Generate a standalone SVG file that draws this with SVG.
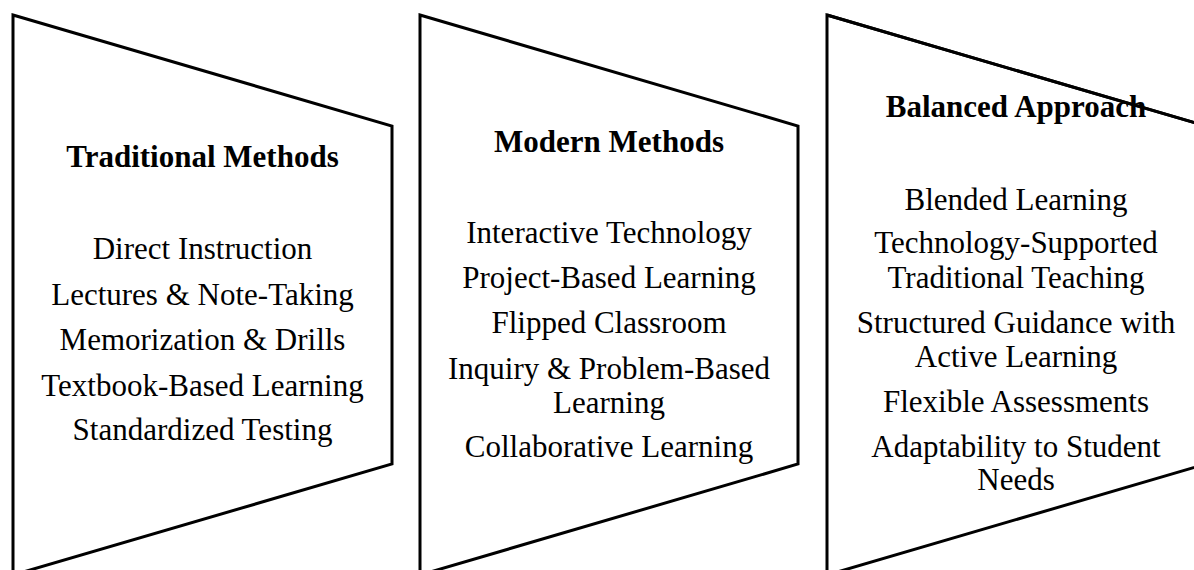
<svg xmlns="http://www.w3.org/2000/svg" width="1194" height="570" viewBox="0 0 1194 570">
  <defs>
    <style>
      .panel { fill: #ffffff; stroke: #000000; stroke-width: 3; stroke-linejoin: miter; }
    </style>
  </defs>
  <rect x="0" y="0" width="1194" height="570" fill="#ffffff"/>

  <!-- Panel 1: traditional methods -->
  <g id="traditional">
    <polygon class="panel" points="13,15 392,126 392,464 13,575"/>
    <text font-family="Liberation Serif" font-size="31" font-weight="bold" text-anchor="middle" x="202.5" y="167">Traditional Methods</text>
    <text font-family="Liberation Serif" font-size="31" text-anchor="middle" x="202.5" y="259">Direct Instruction</text>
    <text font-family="Liberation Serif" font-size="31" text-anchor="middle" x="202.5" y="305">Lectures &amp; Note-Taking</text>
    <text font-family="Liberation Serif" font-size="31" text-anchor="middle" x="202.5" y="350">Memorization &amp; Drills</text>
    <text font-family="Liberation Serif" font-size="31" text-anchor="middle" x="202.5" y="396">Textbook-Based Learning</text>
    <text font-family="Liberation Serif" font-size="31" text-anchor="middle" x="202.5" y="440">Standardized Testing</text>
  </g>

  <!-- Panel 2: modern methods -->
  <g id="modern">
    <polygon class="panel" points="420,15 798,126 798,464 420,575"/>
    <text font-family="Liberation Serif" font-size="31" font-weight="bold" text-anchor="middle" x="609" y="152">Modern Methods</text>
    <text font-family="Liberation Serif" font-size="31" text-anchor="middle" x="609" y="243">Interactive Technology</text>
    <text font-family="Liberation Serif" font-size="31" text-anchor="middle" x="609" y="288">Project-Based Learning</text>
    <text font-family="Liberation Serif" font-size="31" text-anchor="middle" x="609" y="333">Flipped Classroom</text>
    <text font-family="Liberation Serif" font-size="31" text-anchor="middle" x="609" y="379">Inquiry &amp; Problem-Based</text>
    <text font-family="Liberation Serif" font-size="31" text-anchor="middle" x="609" y="413">Learning</text>
    <text font-family="Liberation Serif" font-size="31" text-anchor="middle" x="609" y="457">Collaborative Learning</text>
  </g>

  <!-- Panel 3: balanced approach -->
  <g id="balanced">
    <polygon class="panel" points="827,15 1206,126 1206,464 827,575"/>
    <text font-family="Liberation Serif" font-size="31" font-weight="bold" text-anchor="middle" x="1016" y="117">Balanced Approach</text>
    <text font-family="Liberation Serif" font-size="31" text-anchor="middle" x="1016" y="210">Blended Learning</text>
    <text font-family="Liberation Serif" font-size="31" text-anchor="middle" x="1016" y="253">Technology-Supported</text>
    <text font-family="Liberation Serif" font-size="31" text-anchor="middle" x="1016" y="288">Traditional Teaching</text>
    <text font-family="Liberation Serif" font-size="31" text-anchor="middle" x="1016" y="333">Structured Guidance with</text>
    <text font-family="Liberation Serif" font-size="31" text-anchor="middle" x="1016" y="367">Active Learning</text>
    <text font-family="Liberation Serif" font-size="31" text-anchor="middle" x="1016" y="412">Flexible Assessments</text>
    <text font-family="Liberation Serif" font-size="31" text-anchor="middle" x="1016" y="457">Adaptability to Student</text>
    <text font-family="Liberation Serif" font-size="31" text-anchor="middle" x="1016" y="490">Needs</text>
    <!-- outline stroke redrawn over the heading where they overlap -->
    <polyline points="827,15 1206,126" fill="none" stroke="#000000" stroke-width="3"/>
  </g>

  <g id="connectors"/>
</svg>
